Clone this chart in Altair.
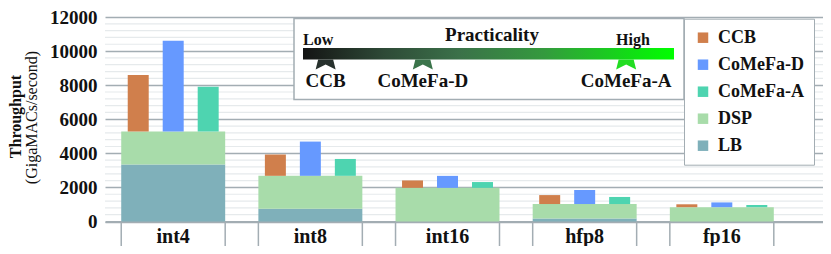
import altair as alt
import pandas as pd

# ---------------- data ----------------
categories = ["int4", "int8", "int16", "hfp8", "fp16"]
lb = [3345, 750, 0, 170, 0]            # LB throughput
dsp = [1935, 1930, 1975, 855, 840]     # DSP throughput (stacked on LB)
ccb_total = [8590, 3930, 2410, 1550, 1010]
comefa_d_total = [10600, 4690, 2677, 1850, 1120]
comefa_a_total = [7905, 3670, 2315, 1440, 970]

series_order = ["CCB", "CoMeFa-D", "CoMeFa-A", "DSP", "LB"]
series_colors = ["#D07F4C", "#6699FF", "#4ED4B0", "#A8DCAA", "#7FB0BA"]

# practicality annotation
prac_names = ["CCB", "CoMeFa-D", "CoMeFa-A"]
prac_values = [0.061, 0.323, 0.871]
prac_marker_colors = ["#27312D", "#3B744B", "#22DD22"]
y_ticks = [0, 2000, 4000, 6000, 8000, 10000, 12000]

FONT = "Liberation Serif"
GRID = "#A3ADB3"
MINOR = "#E6EAEC"
INK = "#111111"

# ---------------- tables ----------------
base_rows = []
for c, l, d in zip(categories, lb, dsp):
    base_rows.append(dict(cat=c, series="LB", y0=0, y1=l))
    base_rows.append(dict(cat=c, series="DSP", y0=l, y1=l + d))
base_df = pd.DataFrame(base_rows)

top_rows = []
for i, c in enumerate(categories):
    b = lb[i] + dsp[i]
    for s, vals in [("CCB", ccb_total), ("CoMeFa-D", comefa_d_total), ("CoMeFa-A", comefa_a_total)]:
        top_rows.append(dict(cat=c, series=s, y0=b, y1=vals[i]))
top_df = pd.DataFrame(top_rows)

cat_df = pd.DataFrame({"cat": categories})
minor_df = pd.DataFrame({"y0": [v for v in range(400, 12000, 400) if v % 2000 != 0]})
prac_df = pd.DataFrame({"name": prac_names, "p": prac_values, "col": prac_marker_colors})
one = pd.DataFrame({"a": [0]})
grad_df = pd.DataFrame({"p0": [0.0], "p1": [1.0]})

W, H = 718, 204.5

xscale = alt.Scale(paddingInner=0.242, paddingOuter=0.2385, align=0.248)
x_axis = alt.Axis(title=None, ticks=False, domain=True, domainColor=GRID,
                  domainWidth=2, labelAngle=0, labelPadding=5, grid=False,
                  labelFontSize=20)
x_main = alt.X("cat:N", sort=categories, scale=xscale, axis=x_axis)
y_scale = alt.Scale(domain=[0, 12000], nice=False)
y_axis = alt.Axis(title=None, values=y_ticks, grid=True, gridColor=GRID,
                  gridWidth=1.3, domain=False, ticks=False, labelPadding=8,
                  format="d", labelOverlap=False, labelFontSize=19,
                  labelBaseline="middle", labelFlush=False)
y_main = alt.Y("y0:Q", scale=y_scale, axis=y_axis)
color = alt.Color("series:N",
                  scale=alt.Scale(domain=series_order, range=series_colors),
                  legend=alt.Legend(orient="none", legendX=579, legendY=1.7, title=None,
                                    fillColor="white", strokeColor=GRID, padding=10,
                                    symbolType="square", symbolSize=110,
                                    symbolStrokeWidth=0, symbolOpacity=1,
                                    labelFont=FONT, labelFontSize=18,
                                    labelFontWeight="bold", labelColor=INK,
                                    rowPadding=9, labelOffset=6))

minor = alt.Chart(minor_df).mark_rule(color=MINOR, strokeWidth=1.2).encode(y=y_main)

base = alt.Chart(base_df).mark_bar(opacity=1).encode(
    x=x_main, y=y_main, y2="y1:Q", color=color)

top = alt.Chart(top_df).mark_bar(opacity=1).encode(
    x=x_main,
    xOffset=alt.XOffset("series:N", sort=["CCB", "CoMeFa-D", "CoMeFa-A"],
                        scale=alt.Scale(paddingInner=0.4, paddingOuter=0.186)),
    y=y_main, y2="y1:Q", color=color)

edge_l = alt.Chart(cat_df).mark_rule(color=GRID, strokeWidth=1.5).encode(
    x=alt.X("cat:N", sort=categories, scale=xscale, axis=x_axis, bandPosition=0),
    y=alt.value(H), y2=alt.value(H + 32))
edge_r = alt.Chart(cat_df).mark_rule(color=GRID, strokeWidth=1.5).encode(
    x=alt.X("cat:N", sort=categories, scale=xscale, axis=x_axis, bandPosition=1),
    y=alt.value(H), y2=alt.value(H + 32))

ytitle1 = alt.Chart(one).mark_text(text="Throughput", font=FONT, fontSize=16,
                                   fontWeight="bold", angle=270, color=INK,
                                   baseline="middle", align="center").encode(
    x=alt.value(-89), y=alt.value(99.5))
ytitle2 = alt.Chart(one).mark_text(text="(GigaMACs/second)", font=FONT, fontSize=16,
                                   fontWeight="normal", angle=270, color=INK,
                                   baseline="middle", align="center").encode(
    x=alt.value(-73), y=alt.value(100.5))

main = alt.layer(minor, base, top, edge_l, edge_r, ytitle1, ytitle2)

# ---------------- practicality annotation ----------------
pscale = alt.Scale(domain=[0, 1], range=[198, 569])

box = alt.Chart(one).mark_rect(fill="white", stroke=GRID, strokeWidth=1.5).encode(
    x=alt.value(189), x2=alt.value(579), y=alt.value(1.5), y2=alt.value(82.5))

grad = alt.Chart(grad_df).mark_rect(
    fill=alt.LinearGradient(gradient="linear", x1=0, x2=1, y1=0, y2=0,
                            stops=[alt.GradientStop(color="#141414", offset=0),
                                   alt.GradientStop(color="#2E4A37", offset=0.22),
                                   alt.GradientStop(color="#3B7149", offset=0.42),
                                   alt.GradientStop(color="#349A3E", offset=0.65),
                                   alt.GradientStop(color="#00FF00", offset=1)]),
    strokeWidth=0).encode(
    x=alt.X("p0:Q", scale=pscale, axis=None), x2="p1:Q",
    y=alt.value(31), y2=alt.value(42.5))

t_low = alt.Chart(one).mark_text(text="Low", font=FONT, fontSize=16, fontWeight="bold",
                                 align="left", baseline="alphabetic",
                                 color=INK).encode(x=alt.value(198), y=alt.value(28))
t_prac = alt.Chart(one).mark_text(text="Practicality", font=FONT, fontSize=19,
                                  fontWeight="bold", align="center",
                                  baseline="alphabetic", color=INK).encode(
    x=alt.value(387), y=alt.value(24))
t_high = alt.Chart(one).mark_text(text="High", font=FONT, fontSize=16, fontWeight="bold",
                                  align="center", baseline="alphabetic",
                                  color=INK).encode(x=alt.value(528), y=alt.value(28))

markers = alt.Chart(prac_df).mark_point(
    shape="M-0.75,-0.5L0.75,-0.5L1,0.5L0,0L-1,0.5Z", filled=True, size=400,
    opacity=1, strokeWidth=0).encode(
    x=alt.X("p:Q", scale=pscale, axis=None), y=alt.value(47.5),
    fill=alt.Fill("col:N", scale=None))

mlabels = alt.Chart(prac_df).mark_text(font=FONT, fontSize=19, fontWeight="bold",
                                       align="center", baseline="alphabetic",
                                       color=INK).encode(
    x=alt.X("p:Q", scale=pscale, axis=None), y=alt.value(69.5), text="name:N")

annot = alt.layer(box, grad, t_low, t_prac, t_high, markers, mlabels)

chart = alt.layer(main, annot).resolve_scale(x="independent").properties(
    width=W, height=H,
    autosize=alt.AutoSizeParams(type="none"),
    padding={"left": 97, "top": 9, "right": 0, "bottom": 24},
).configure_view(stroke=None).configure_axis(
    labelFont=FONT, labelFontWeight="bold", labelColor=INK)

chart.save("out.html", embed_options={"renderer": "svg", "actions": False})
